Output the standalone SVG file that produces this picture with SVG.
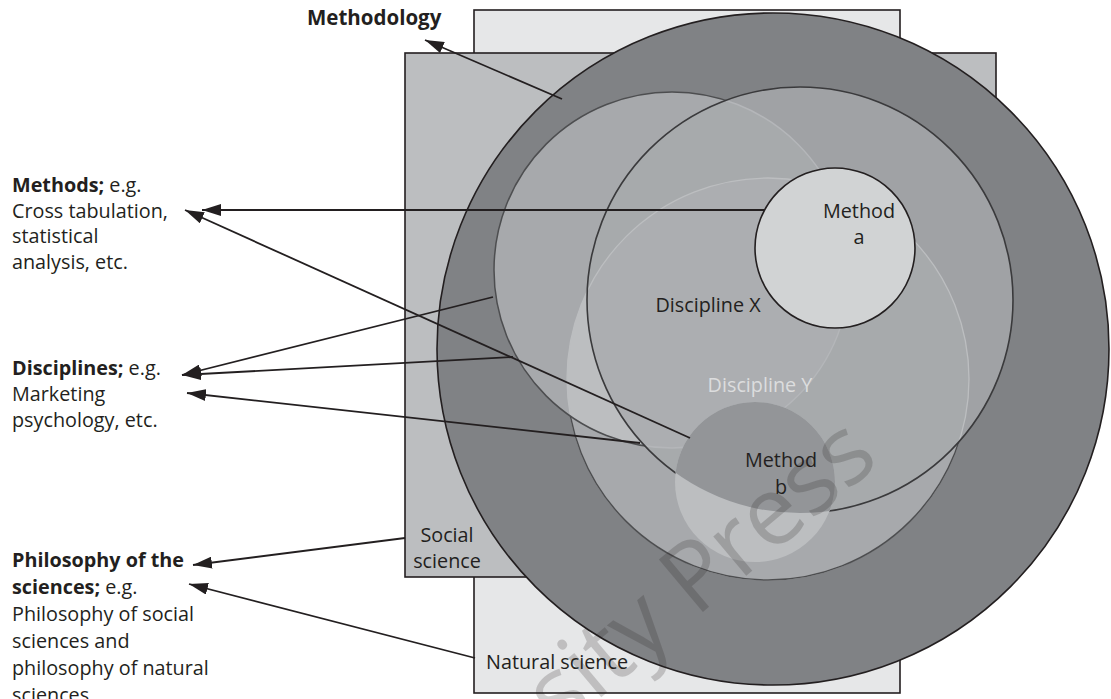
<svg xmlns="http://www.w3.org/2000/svg" width="1111" height="699" viewBox="0 0 1111 699">
<style>
text{font-family:"Open Sans","Liberation Sans",sans-serif;font-size:19.8px;fill:#231f20}
.b{font-weight:bold}
.c{text-anchor:middle}
.con{stroke:#231f20;stroke-width:1.8;fill:none}
.rect{stroke:#231f20;stroke-width:1.6}
</style>
<defs>
<marker id="ah" markerUnits="userSpaceOnUse" markerWidth="20" markerHeight="12" refX="19" refY="6" orient="auto">
<path d="M0,0 L19,6 L0,12 z" fill="#231f20"/>
</marker>
<clipPath id="cX"><circle cx="800" cy="300" r="213"/></clipPath>
<clipPath id="cA"><circle cx="672" cy="270" r="178"/></clipPath>
<mask id="mOutX" maskUnits="userSpaceOnUse" x="0" y="0" width="1111" height="699">
<rect width="1111" height="699" fill="#fff"/><circle cx="800" cy="300" r="213" fill="#000"/>
</mask>
<mask id="mOutAX" maskUnits="userSpaceOnUse" x="0" y="0" width="1111" height="699">
<rect width="1111" height="699" fill="#fff"/><circle cx="800" cy="300" r="213" fill="#000"/><circle cx="672" cy="270" r="178" fill="#000"/>
</mask>
</defs>
<rect width="1111" height="699" fill="#fff"/>

<g id="natural-science">
<rect class="rect" x="474" y="10" width="426" height="683" fill="#e6e7e8"/>
<text x="486" y="669">Natural science</text>
</g>
<g id="social-science">
<rect class="rect" x="405" y="53" width="591" height="524" fill="#bcbec0"/>
<text class="c" x="447" y="542">Social</text>
<text class="c" x="447" y="568">science</text>
</g>

<g id="methodology-circle">
<circle cx="773" cy="349" r="336" fill="#808285" stroke="#231f20" stroke-width="1.6"/>
</g>

<g id="disciplines">
<circle id="discipline-z" cx="672" cy="270" r="178" fill="#a7a9ac"/>
<circle id="discipline-y-fill" cx="768" cy="379" r="201" fill="#a7a9ac"/>
<circle cx="768" cy="379" r="201" fill="#bcbec0" clip-path="url(#cA)"/>
<circle id="discipline-x-fill" cx="800" cy="300" r="213" fill="#a8aaad" fill-opacity="0.8"/>
<circle cx="768" cy="379" r="201" fill="none" stroke="#bcbec0" stroke-width="1.3"/>
<circle cx="672" cy="270" r="178" fill="none" stroke="#b4b6b9" stroke-width="1.4" clip-path="url(#cX)"/>
<circle cx="672" cy="270" r="178" fill="none" stroke="#4d4e50" stroke-width="1.5" mask="url(#mOutX)"/>
<circle cx="768" cy="379" r="201" fill="none" stroke="#4d4e50" stroke-width="1.5" mask="url(#mOutAX)"/>
<circle id="discipline-x" cx="800" cy="300" r="213" fill="none" stroke="#3a3a3c" stroke-width="1.6"/>
<text class="c" x="708" y="312">Discipline X</text>
<text class="c" x="760" y="392" style="fill:#dcddde">Discipline Y</text>
</g>

<g id="method-b">
<circle cx="755" cy="482" r="80" fill="#bcbec0"/>
<circle cx="755" cy="482" r="80" fill="#939598" clip-path="url(#cX)"/>
<text class="c" x="781" y="467">Method</text>
<text class="c" x="781" y="494">b</text>
</g>

<g id="method-a">
<circle cx="835" cy="248" r="80" fill="#d1d3d4" stroke="#231f20" stroke-width="1.6"/>
<text class="c" x="859" y="218">Method</text>
<text class="c" x="859" y="244">a</text>
</g>

<g id="label-methodology">
<text class="b" x="307" y="25" style="font-size:20.5px">Methodology</text>
</g>
<g id="label-methods">
<text x="12" y="192"><tspan class="b">Methods;</tspan> e.g.</text>
<text x="12" y="218">Cross tabulation,</text>
<text x="12" y="243">statistical</text>
<text x="12" y="269">analysis, etc.</text>
</g>
<g id="label-disciplines">
<text x="12" y="375"><tspan class="b">Disciplines;</tspan> e.g.</text>
<text x="12" y="401">Marketing</text>
<text x="12" y="427">psychology, etc.</text>
</g>
<g id="label-philosophy">
<text class="b" x="12" y="567">Philosophy of the</text>
<text x="12" y="594"><tspan class="b">sciences;</tspan> e.g.</text>
<text x="12" y="621">Philosophy of social</text>
<text x="12" y="648">sciences and</text>
<text x="12" y="675">philosophy of natural</text>
<text x="12" y="702">sciences</text>
</g>

<g id="connectors">
<line class="con" x1="562" y1="99" x2="425" y2="40" marker-end="url(#ah)"/>
<line class="con" x1="765" y1="210" x2="202" y2="210" marker-end="url(#ah)"/>
<line class="con" x1="690" y1="438" x2="185" y2="210" marker-end="url(#ah)"/>
<line class="con" x1="493" y1="297" x2="182" y2="375" marker-end="url(#ah)"/>
<line class="con" x1="513" y1="357" x2="182" y2="375" marker-end="url(#ah)"/>
<line class="con" x1="640" y1="443" x2="187" y2="393" marker-end="url(#ah)"/>
<line class="con" x1="405" y1="538" x2="193" y2="565" marker-end="url(#ah)"/>
<line class="con" x1="475" y1="658" x2="189" y2="584" marker-end="url(#ah)"/>
</g>

<g id="watermark">
<text transform="translate(560,732) rotate(-40)" style="font-size:96px;fill:#231f20;fill-opacity:0.2">sity Press</text>
</g>
</svg>
